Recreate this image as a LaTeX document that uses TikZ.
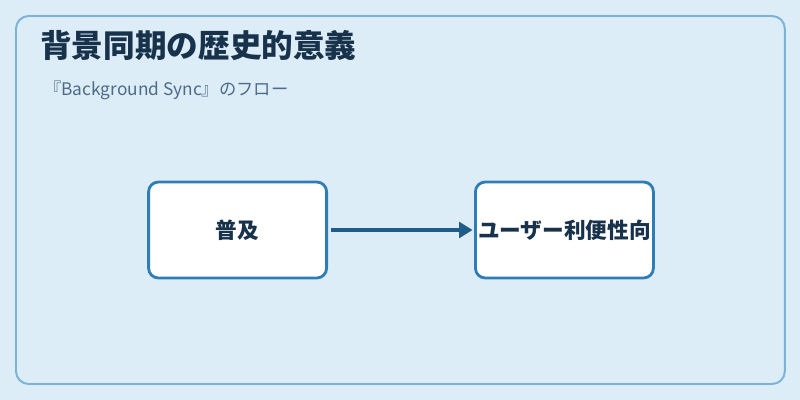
\documentclass[tikz,border=0pt]{standalone}
\usepackage{fontspec}
\usepackage{xcolor}
\usepackage{tikz}
\usetikzlibrary{arrows.meta, positioning}
\setmainfont{Noto Sans CJK JP}
\definecolor{pagebg}{HTML}{DDEDF8}
\definecolor{frameline}{HTML}{7AB3D6}
\definecolor{boxline}{HTML}{2F7DB5}
\definecolor{flowline}{HTML}{1F5C8A}
\definecolor{titletext}{HTML}{17324A}
\definecolor{subtext}{HTML}{4C6B86}

\begin{document}
\begin{tikzpicture}[
    stagebox/.style={draw=boxline, line width=2pt, fill=white, rounded corners=7pt,
      minimum width=4.45cm, minimum height=2.4cm, inner sep=0pt,
      font=\fontsize{15.4}{18}\selectfont\bfseries, text=titletext},
    flowarrow/.style={draw=flowline, line width=2.5pt, -{Triangle[length=9.5pt, width=11pt]}}
  ]
  \useasboundingbox (0,0) rectangle (20,-10);
  \fill[pagebg] (0,0) rectangle (20,-10);
  \draw[frameline, line width=1.4pt, rounded corners=9pt] (0.4,-0.4) rectangle (19.62,-9.6);

  % heading
  \node[anchor=base west, inner sep=0pt, text=titletext,
    font=\fontsize{22.5}{26}\selectfont\bfseries] (title) at (1.0,-1.45) {背景同期の歴史的意義};
  \node[anchor=base west, inner sep=0pt, text=subtext,
    font=\fontsize{12.3}{15}\selectfont] (subtitle) at (1.1,-2.38) {『Background Sync』のフロー};

  % flow
  \node[stagebox] (spread) at (5.94,-5.75) {普及};
  \node[stagebox, right=3.65cm of spread] (benefit) {ユーザー利便性向};
  \draw[flowarrow, shorten <=2pt, shorten >=1pt] (spread) -- (benefit);
\end{tikzpicture}
\end{document}
